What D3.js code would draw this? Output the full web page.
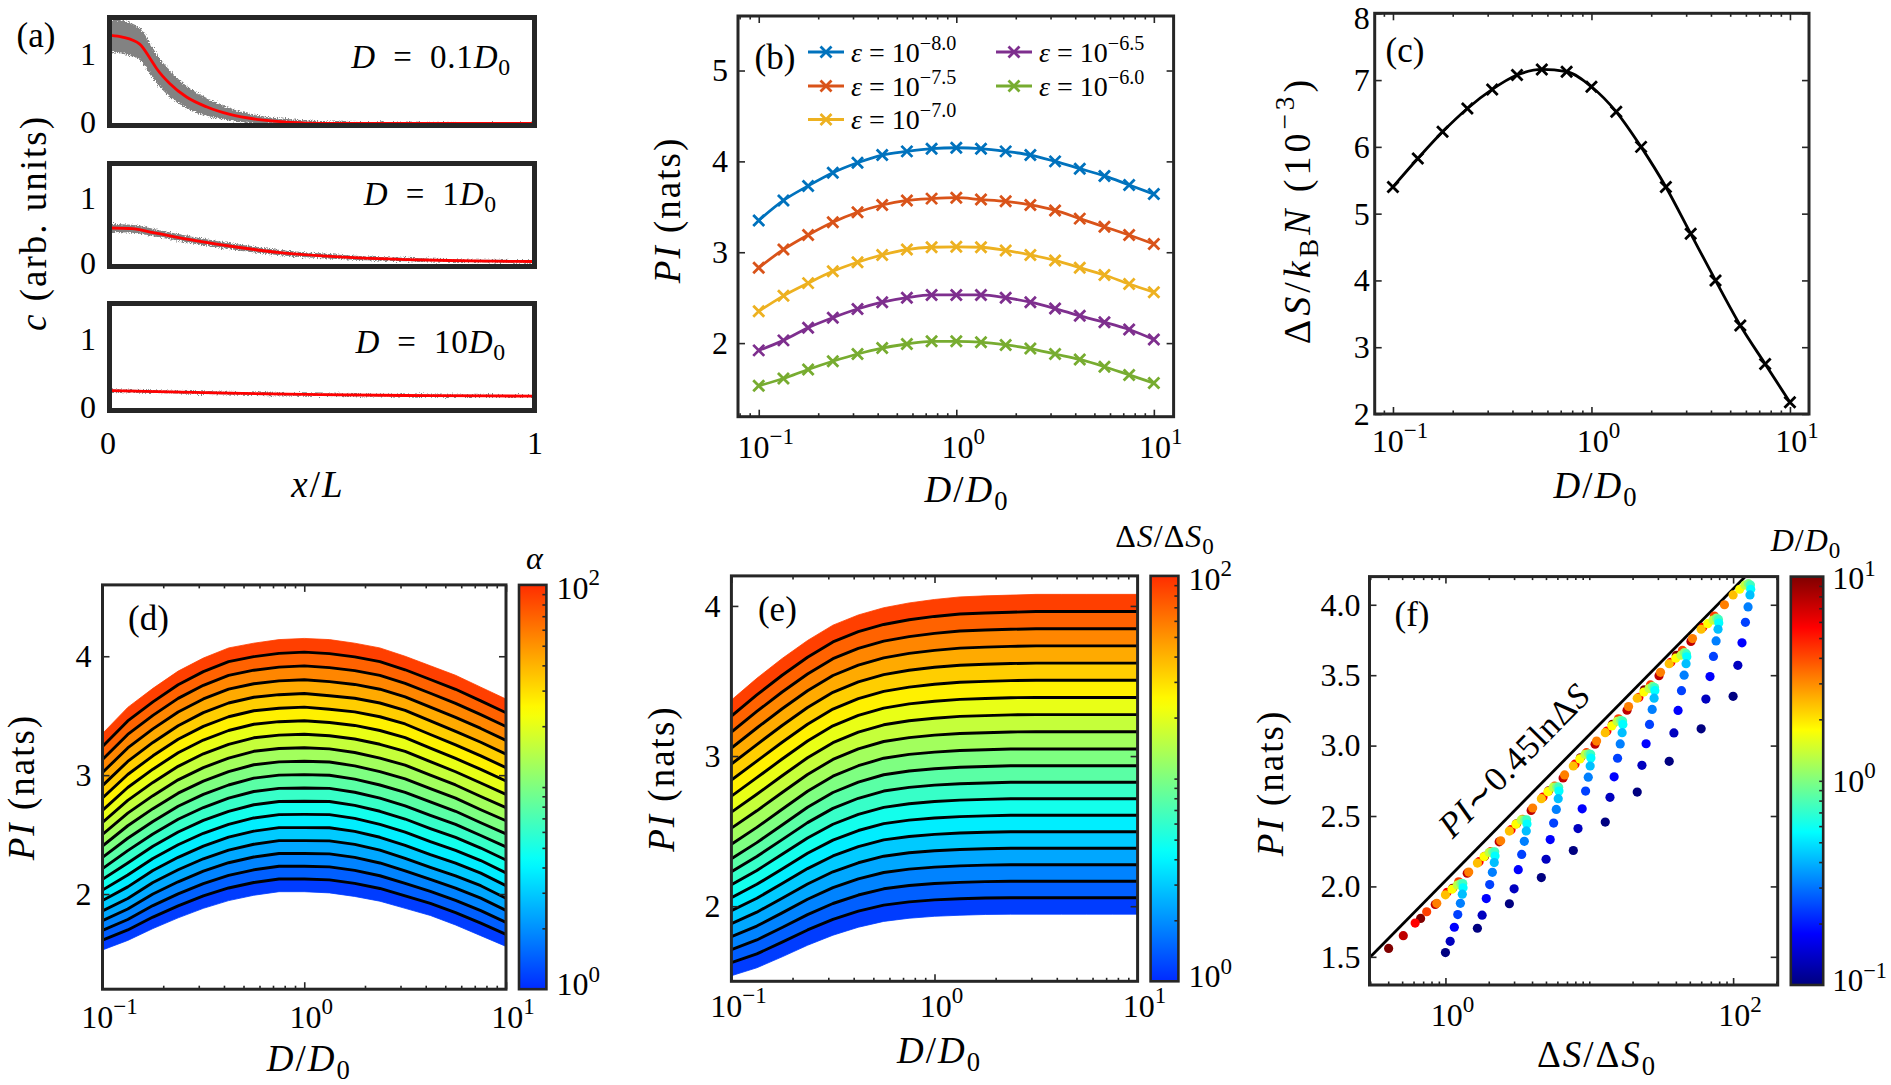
<!DOCTYPE html>
<html><head><meta charset="utf-8">
<script src="https://cdn.jsdelivr.net/npm/d3@7/dist/d3.min.js"></script>
<style>html,body{margin:0;padding:0;background:#fff;} svg{display:block;}</style>
</head><body>
<svg id="fig" width="1891" height="1085" xmlns="http://www.w3.org/2000/svg"></svg>
<script>
// ================= DATA =================
const dGrid = [0.1,0.1334,0.1778,0.2371,0.3162,0.4217,0.5623,0.7499,1,1.3335,1.7783,2.3714,3.1623,4.217,5.6234,7.4989,10];

// (a) concentration profiles: x/L, mean (red) and spread of the grey cloud
const aX1 = [0,0.027,0.068,0.093,0.108,0.139,0.179,0.226,0.282,0.345,0.425,0.503,0.6,0.75,1];
const aC1 = [1.265,1.24,1.14,0.93,0.79,0.574,0.38,0.24,0.13,0.06,0.017,0.003,0,0,0];
const aW1 = [0.24,0.24,0.23,0.22,0.21,0.19,0.16,0.13,0.09,0.06,0.045,0.03,0.02,0.01,0.005];
const aX2 = [0,0.05,0.1,0.2,0.3,0.4,0.5,0.6,0.7,0.8,0.9,1.0];
const aC2 = [0.55,0.54,0.48,0.36,0.26,0.18,0.13,0.095,0.075,0.06,0.05,0.045];
const aW2 = [0.06,0.06,0.055,0.05,0.045,0.04,0.035,0.03,0.025,0.02,0.02,0.02];
const aX3 = [0,0.25,0.5,0.75,1];
const aC3 = [0.26,0.225,0.2,0.186,0.18];
const aW3 = [0.02,0.02,0.018,0.016,0.015];
const aLabels = ["0.1","1","10"];

// (b) PI (nats) vs D/D0 for five epsilon values
const bEps = ["−8.0","−7.5","−7.0","−6.5","−6.0"];
const piEpsM80 = [3.35,3.57,3.73,3.875,3.985,4.07,4.11,4.14,4.15,4.14,4.11,4.07,4.00,3.92,3.84,3.74,3.64];
const piEpsM75 = [2.83,3.03,3.19,3.33,3.44,3.52,3.57,3.59,3.60,3.58,3.56,3.52,3.46,3.37,3.28,3.19,3.09];
const piEpsM70 = [2.35,2.52,2.66,2.79,2.89,2.97,3.03,3.055,3.06,3.055,3.02,2.97,2.91,2.83,2.75,2.65,2.56];
const piEpsM65 = [1.92,2.03,2.17,2.28,2.375,2.45,2.50,2.53,2.53,2.53,2.50,2.45,2.38,2.30,2.23,2.15,2.04];
const piEpsM60 = [1.53,1.61,1.71,1.80,1.88,1.945,1.99,2.02,2.02,2.01,1.98,1.94,1.88,1.82,1.74,1.65,1.56];
const bColors = ["#0072BD","#D95319","#EDB120","#7E2F8E","#77AC30"];

// (c) Delta S / kB N (1e-3)
const dsC = [5.40,5.825,6.225,6.575,6.86,7.075,7.16,7.125,6.9,6.525,6.0,5.4,4.7,4.0,3.325,2.75,2.175];

// (d) PI field: rows = alpha levels, columns = dGrid
const alphaLevels = [1,1.668,2.783,4.642,7.743,12.915,21.544,35.938,59.948,100];
const piAlpha = [
 [1.53,1.61,1.71,1.80,1.88,1.945,1.99,2.02,2.02,2.01,1.98,1.94,1.88,1.82,1.74,1.65,1.56],
 [1.703,1.796,1.914,2.013,2.10,2.169,2.216,2.246,2.246,2.241,2.211,2.166,2.102,2.033,1.958,1.872,1.773],
 [1.877,1.983,2.119,2.227,2.32,2.394,2.443,2.473,2.473,2.472,2.442,2.393,2.324,2.247,2.176,2.094,1.987],
 [2.063,2.193,2.333,2.45,2.547,2.623,2.677,2.705,2.707,2.705,2.673,2.623,2.557,2.477,2.403,2.317,2.213],
 [2.255,2.411,2.551,2.677,2.776,2.855,2.912,2.938,2.942,2.938,2.905,2.855,2.792,2.712,2.635,2.539,2.445],
 [2.457,2.633,2.778,2.91,3.012,3.092,3.15,3.174,3.18,3.172,3.14,3.092,3.032,2.95,2.868,2.77,2.678],
 [2.67,2.86,3.013,3.15,3.257,3.337,3.39,3.412,3.42,3.405,3.38,3.337,3.277,3.19,3.103,3.01,2.913],
 [2.888,3.09,3.25,3.39,3.50,3.581,3.63,3.651,3.661,3.642,3.621,3.581,3.52,3.431,3.342,3.251,3.151],
 [3.119,3.33,3.49,3.633,3.743,3.826,3.87,3.896,3.906,3.891,3.866,3.826,3.76,3.676,3.591,3.496,3.396],
 [3.35,3.57,3.73,3.875,3.985,4.07,4.11,4.14,4.15,4.14,4.11,4.07,4.00,3.92,3.84,3.74,3.64]
];

// (e) PI field at fixed Delta S / Delta S0 = 1, 10, 100
const dsLevels = [1,10,100];
const piDS = [
 [1.537,1.59,1.663,1.74,1.807,1.86,1.899,1.92,1.933,1.94,1.945,1.947,1.947,1.947,1.947,1.947,1.947],
 [2.36,2.47,2.59,2.71,2.81,2.88,2.93,2.955,2.97,2.98,2.985,2.99,2.99,2.99,2.99,2.99,2.99],
 [3.373,3.518,3.65,3.77,3.872,3.94,3.988,4.02,4.043,4.06,4.067,4.072,4.077,4.077,4.077,4.077,4.077]
];
const contourCount = 19;

// (f) fit line PI ~ a + 0.45 ln dS
const fitSlope = 0.45, fitIntercept = 2.04;

// tick labels
const bYTicks = [2,3,4,5], cYTicks = [2,3,4,5,6,7,8], dYTicks = [2,3,4], eYTicks = [2,3,4];
const fYTicks = ["1.5","2.0","2.5","3.0","3.5","4.0"];

// ================= HELPERS =================
const FONT = '"Liberation Serif","Times New Roman",serif';
const INK = "#262626";
const svg = d3.select("#fig");
const defs = svg.append("defs");

function mtext(g, x, y, parts, size, anchor, rot, ls) {
  const t = g.append("text").attr("x", x).attr("y", y).attr("font-size", size)
    .attr("font-family", FONT).attr("fill", "#000").attr("text-anchor", anchor || "middle");
  if (ls) t.attr("letter-spacing", ls);
  if (rot) t.attr("transform", `rotate(${rot},${x},${y})`);
  let shift = 0;
  parts.forEach(p => {
    if (typeof p === "string") p = {t: p};
    const small = p.sub || p.sup;
    const fs = small ? size * 0.72 : size;
    const target = p.sub ? size * 0.22 : (p.sup ? -size * 0.42 : 0);
    const ts = t.append("tspan").attr("font-size", fs).text(p.t);
    if (target - shift !== 0) ts.attr("dy", target - shift);
    if (p.i) ts.attr("font-style", "italic");
    shift = target;
  });
  return t;
}
function ctext(g, cx, cy, parts, size, anchor, ls) { return mtext(g, cx, cy + size * 0.34, parts, size, anchor, 0, ls); }
function vtext(g, cx, cy, parts, size, ls) { return mtext(g, cx + size * 0.34, cy, parts, size, "middle", -90, ls); }
function pow10(e) { return ["10", {t: (e < 0 ? "−" : "") + Math.abs(e), sup: 1}]; }

function jet(t) {
  const c = v => Math.max(0, Math.min(1, v));
  const r = c(Math.min(4 * t - 1.5, -4 * t + 4.5));
  const g = c(Math.min(4 * t - 0.5, -4 * t + 3.5));
  const b = c(Math.min(4 * t + 0.5, -4 * t + 2.5));
  return d3.rgb(r * 255, g * 255, b * 255).formatHex();
}
const jetTrunc = u => jet(0.166 + 0.665 * u);

function styleAxis(sel) {
  sel.select(".domain").remove();
  sel.selectAll("line").attr("stroke", INK).attr("stroke-width", 1.6);
  sel.selectAll("text").remove();
}
function xTicks(g, x, y0, y1, vals, len) {
  g.append("g").attr("transform", `translate(0,${y1})`).call(d3.axisBottom(x).tickValues(vals).tickSize(-len)).call(styleAxis);
  g.append("g").attr("transform", `translate(0,${y0})`).call(d3.axisTop(x).tickValues(vals).tickSize(-len)).call(styleAxis);
}
function yTicks(g, y, x0, x1, vals, len) {
  g.append("g").attr("transform", `translate(${x0},0)`).call(d3.axisLeft(y).tickValues(vals).tickSize(-len)).call(styleAxis);
  g.append("g").attr("transform", `translate(${x1},0)`).call(d3.axisRight(y).tickValues(vals).tickSize(-len)).call(styleAxis);
}
function logMinors(dom, exps) {
  const out = [];
  exps.forEach(e => { for (let m = 2; m <= 9; m++) { const v = m * Math.pow(10, e); if (v > dom[0] && v < dom[1]) out.push(v); } });
  return out;
}
function frame(g, x0, x1, y0, y1, w) {
  g.append("rect").attr("x", x0).attr("y", y0).attr("width", x1 - x0).attr("height", y1 - y0)
    .attr("fill", "none").attr("stroke", INK).attr("stroke-width", w);
}
function clip(id, x0, x1, y0, y1) {
  defs.append("clipPath").attr("id", id).append("rect").attr("x", x0).attr("y", y0).attr("width", x1 - x0).attr("height", y1 - y0);
  return `url(#${id})`;
}
function xMarker(g, cx, cy, color, s) {
  g.append("path").attr("d", `M${cx - s},${cy - s}L${cx + s},${cy + s}M${cx - s},${cy + s}L${cx + s},${cy - s}`)
    .attr("stroke", color).attr("stroke-width", 2.8).attr("fill", "none");
}
const TK = 32, LB = 37, LS = 2, LET = 35;
const dLab = [{t: "D", i: 1}, "/", {t: "D", i: 1}, {t: "0", sub: 1}];
const piLab = [{t: "PI", i: 1}, " (nats)"];

const flt = defs.append("filter").attr("id", "fuzz").attr("x", "-5%").attr("y", "-20%").attr("width", "110%").attr("height", "140%");
flt.append("feTurbulence").attr("type", "fractalNoise").attr("baseFrequency", "0.8").attr("numOctaves", 2).attr("seed", 3).attr("result", "n");
flt.append("feDisplacementMap").attr("in", "SourceGraphic").attr("in2", "n").attr("scale", 6).attr("xChannelSelector", "R").attr("yChannelSelector", "G");

// ================= PANEL (a) =================
(function () {
  const g = svg.append("g");
  const L = 107, R = 537;
  const boxes = [{t: 15, b: 128, X: aX1, C: aC1, W: aW1, lab: aLabels[0], lx: 511, ly: 57},
                 {t: 161, b: 269, X: aX2, C: aC2, W: aW2, lab: aLabels[1], lx: 497, ly: 194},
                 {t: 301, b: 413, X: aX3, C: aC3, W: aW3, lab: aLabels[2], lx: 506, ly: 342}];
  const x = d3.scaleLinear().domain([0, 1]).range([L + 4, R - 4]);
  boxes.forEach((bx, k) => {
    const y = d3.scaleLinear().domain([0, 1.5]).range([bx.b - 4.5, bx.t + 4]);
    const cp = clip("ca" + k, L + 2, R - 2, bx.t + 2, bx.b - 2);
    const pg = g.append("g").attr("clip-path", cp);
    const idx = d3.range(bx.X.length);
    pg.append("path").attr("filter", "url(#fuzz)").attr("fill", "#828282")
      .attr("d", d3.area().curve(d3.curveMonotoneX).x(i => x(bx.X[i])).y0(i => y(bx.C[i] - bx.W[i])).y1(i => y(bx.C[i] + bx.W[i]))(idx));
    pg.append("path").attr("fill", "none").attr("stroke", "#ff0000").attr("stroke-width", 2.8)
      .attr("d", d3.line().curve(d3.curveMonotoneX).x(i => x(bx.X[i])).y(i => y(bx.C[i]))(idx));
    frame(g, L + 2.5, R - 2.5, bx.t + 2.5, bx.b - 2.5, 5);
    ctext(g, 96, y(1), ["1"], TK, "end");
    ctext(g, 96, y(0) - 1, ["0"], TK, "end");
    ctext(g, bx.lx, bx.ly, [{t: "D", i: 1}, "\u2002=\u2002" + bx.lab, {t: "D", i: 1}, {t: "0", sub: 1}], 33, "end", 0.8);
  });
  ctext(g, x(0) - 3, 443, ["0"], TK, "middle");
  ctext(g, x(1) + 2, 443, ["1"], TK, "middle");
  ctext(g, 318, 484, [{t: "x", i: 1}, "/", {t: "L", i: 1}], LB, "middle", LS);
  vtext(g, 33, 223, [{t: "c", i: 1}, " (arb. units)"], LB, LS);
  ctext(g, 36, 35, ["(a)"], LET, "middle");
})();

// ================= PANEL (b) =================
(function () {
  const g = svg.append("g");
  const L = 738, R = 1173.6, T = 16, B = 416.7;
  const x = d3.scaleLog().domain([Math.pow(10, -1.105), Math.pow(10, 1.1)]).range([L, R]);
  const y = d3.scaleLinear().domain([1.19, 5.6]).range([B, T]);
  const series = [piEpsM80, piEpsM75, piEpsM70, piEpsM65, piEpsM60];
  const idx = d3.range(dGrid.length);
  const pg = g.append("g").attr("clip-path", clip("cb", L, R, T, B));
  series.forEach((s, k) => {
    pg.append("path").attr("fill", "none").attr("stroke", bColors[k]).attr("stroke-width", 2.8)
      .attr("d", d3.line().curve(d3.curveMonotoneX).x(i => x(dGrid[i])).y(i => y(s[i]))(idx));
    idx.forEach(i => xMarker(pg, x(dGrid[i]), y(s[i]), bColors[k], 5.5));
  });
  xTicks(g, x, T, B, [0.1, 1, 10], 7);
  xTicks(g, x, T, B, logMinors(x.domain(), [-2, -1, 0, 1]), 3.5);
  yTicks(g, y, L, R, bYTicks, 7);
  frame(g, L, R, T, B, 3);
  bYTicks.forEach(v => ctext(g, L - 10, y(v), [String(v)], TK, "end"));
  [-1, 0, 1].forEach(e => ctext(g, x(Math.pow(10, e)) + 7, 447, pow10(e), TK, "middle"));
  ctext(g, 967, 489, dLab, LB, "middle", LS);
  vtext(g, 667, 210, piLab, LB, LS);
  ctext(g, 775, 57, ["(b)"], LET, "middle");
  const pos = [[808, 52], [808, 86], [808, 119.5], [996, 52], [996, 86]];
  bEps.forEach((e, k) => {
    const [lx, ly] = pos[k];
    g.append("line").attr("x1", lx).attr("x2", lx + 36).attr("y1", ly).attr("y2", ly).attr("stroke", bColors[k]).attr("stroke-width", 2.8);
    xMarker(g, lx + 18, ly, bColors[k], 5.5);
    ctext(g, lx + 43, ly, [{t: "ε", i: 1}, " = 10", {t: e, sup: 1}], 28, "start");
  });
})();

// ================= PANEL (c) =================
(function () {
  const g = svg.append("g");
  const L = 1374.7, R = 1809, T = 13.3, B = 414;
  const x = d3.scaleLog().domain([Math.pow(10, -1.092), Math.pow(10, 1.096)]).range([L, R]);
  const y = d3.scaleLinear().domain([2, 8]).range([B, T]);
  const idx = d3.range(dGrid.length);
  const pg = g.append("g").attr("clip-path", clip("cc", L, R, T, B));
  pg.append("path").attr("fill", "none").attr("stroke", "#000").attr("stroke-width", 2.8)
    .attr("d", d3.line().curve(d3.curveMonotoneX).x(i => x(dGrid[i])).y(i => y(dsC[i]))(idx));
  idx.forEach(i => xMarker(pg, x(dGrid[i]), y(dsC[i]), "#000", 5.5));
  xTicks(g, x, T, B, [0.1, 1, 10], 7);
  xTicks(g, x, T, B, logMinors(x.domain(), [-2, -1, 0, 1]), 3.5);
  yTicks(g, y, L, R, cYTicks, 7);
  frame(g, L, R, T, B, 3);
  cYTicks.forEach(v => ctext(g, L - 5, Math.max(y(v), 18), [String(v)], TK, "end"));
  [-1, 0, 1].forEach(e => ctext(g, x(Math.pow(10, e)) + 7, 441, pow10(e), TK, "middle"));
  ctext(g, 1596, 485, dLab, LB, "middle", LS);
  vtext(g, 1297, 210, ["Δ", {t: "S", i: 1}, "/", {t: "k", i: 1}, {t: "B", sub: 1}, {t: "N", i: 1}, " (10", {t: "−3", sup: 1}, ")"], 38, 4);
  ctext(g, 1405, 50, ["(c)"], LET, "middle");
})();

// ================= contour-band helper for (d),(e) =================
function fieldAt(rows, logLv, L, i) {
  let k = 0;
  while (k < logLv.length - 2 && L > logLv[k + 1]) k++;
  const f = (L - logLv[k]) / (logLv[k + 1] - logLv[k]);
  return rows[k][i] + f * (rows[k + 1][i] - rows[k][i]);
}
function bandPanel(g, id, L, R, T, B, yDom, rows, levels, cbX0, cbX1, cbTitle, cbTitleX, cbTitleY, letter, yTickVals, ylabX, xTickY, xlabY) {
  const x = d3.scaleLog().domain([0.1, 10]).range([L, R]);
  const y = d3.scaleLinear().domain(yDom).range([B, T]);
  const logLv = levels.map(Math.log10);
  const lo = logLv[0], hi = logLv[logLv.length - 1];
  const idx = d3.range(dGrid.length);
  const pg = g.append("g").attr("clip-path", clip(id, L, R, T, B));
  const lv = d3.range(contourCount + 1).map(j => lo + (hi - lo) * j / contourCount);
  for (let j = 0; j < contourCount; j++) {
    const col = jetTrunc((j + 0.5) / contourCount);
    pg.append("path").attr("fill", col).attr("stroke", col).attr("stroke-width", 0.8)
      .attr("d", d3.area().x(i => x(dGrid[i])).y0(i => y(fieldAt(rows, logLv, lv[j], i))).y1(i => y(fieldAt(rows, logLv, lv[j + 1], i)))(idx));
  }
  for (let j = 1; j < contourCount; j++) {
    pg.append("path").attr("fill", "none").attr("stroke", "#000").attr("stroke-width", 2.9).attr("stroke-linejoin", "round")
      .attr("d", d3.line().x(i => x(dGrid[i])).y(i => y(fieldAt(rows, logLv, lv[j], i)))(idx));
  }
  xTicks(g, x, T, B, [0.1, 1, 10], 7);
  xTicks(g, x, T, B, logMinors(x.domain(), [-1, 0]), 3.5);
  yTicks(g, y, L, R, yTickVals, 7);
  frame(g, L, R, T, B, 3);
  yTickVals.forEach(v => ctext(g, L - 11, y(v), [String(v)], TK, "end"));
  [-1, 0, 1].forEach(e => ctext(g, x(Math.pow(10, e)) + 7, xTickY, pow10(e), TK, "middle"));
  ctext(g, (L + R) / 2 + 5, xlabY, dLab, LB, "middle", LS);
  vtext(g, ylabX, (T + B) / 2, piLab, LB, LS);
  ctext(g, L + 46, T + 33, [letter], LET, "middle");
  const gid = "grad" + id;
  const gr = defs.append("linearGradient").attr("id", gid).attr("x1", 0).attr("y1", 1).attr("x2", 0).attr("y2", 0);
  d3.range(41).forEach(s => gr.append("stop").attr("offset", s / 40).attr("stop-color", jetTrunc(s / 40)));
  g.append("rect").attr("x", cbX0).attr("y", T).attr("width", cbX1 - cbX0).attr("height", B - T).attr("fill", `url(#${gid})`);
  const cy = d3.scaleLog().domain([1, 100]).range([B, T]);
  g.append("g").attr("transform", `translate(${cbX1},0)`).call(d3.axisRight(cy).tickValues(logMinors([1, 100], [0, 1]).concat([10])).tickSize(-4)).call(styleAxis);
  frame(g, cbX0, cbX1, T, B, 2.6);
  ctext(g, cbX1 + 10, T + 3, pow10(2), TK, "start");
  ctext(g, cbX1 + 10, B - 5, pow10(0), TK, "start");
  ctext(g, cbTitleX, cbTitleY, cbTitle, 32, "middle", 1);
}

bandPanel(svg.append("g"), "cd", 102.5, 506, 584.9, 989.2, [1.2, 4.6], piAlpha, alphaLevels,
  519, 546.4, [{t: "α", i: 1}], 535, 558, "(d)", dYTicks, 21, 1017, 1058);

bandPanel(svg.append("g"), "ce", 731.4, 1137.6, 575.9, 981.3, [1.5, 4.2], piDS, dsLevels,
  1150.6, 1178.4, ["Δ", {t: "S", i: 1}, "/Δ", {t: "S", i: 1}, {t: "0", sub: 1}], 1165, 536, "(e)", eYTicks, 661, 1006, 1050);

// ================= PANEL (f) =================
(function () {
  const g = svg.append("g");
  const L = 1369.5, R = 1777.7, T = 576.6, B = 985;
  const x = d3.scaleLog().domain([Math.pow(10, -0.528), Math.pow(10, 2.31)]).range([L, R]);
  const y = d3.scaleLinear().domain([1.3, 4.2]).range([B, T]);
  const pg = g.append("g").attr("clip-path", clip("cf", L, R, T, B));
  const xs = [x.domain()[0], x.domain()[1]];
  pg.append("path").attr("fill", "none").attr("stroke", "#000").attr("stroke-width", 2.8)
    .attr("d", d3.line().x(v => x(v)).y(v => y(fitIntercept + fitSlope * Math.log(v)))(xs));
  const pts = [];
  alphaLevels.forEach((a, k) => dGrid.forEach((D, i) => pts.push({sx: a * dsC[i] / dsC[0], py: piAlpha[k][i], D: D, i: i})));
  pts.sort((p, q) => q.i - p.i);
  pg.selectAll("circle.pt").data(pts).enter().append("circle")
    .attr("cx", p => x(p.sx)).attr("cy", p => y(p.py)).attr("r", 4.6)
    .attr("fill", p => jet((Math.log10(p.D) + 1) / 2));
  xTicks(g, x, T, B, [1, 100], 7);
  xTicks(g, x, T, B, logMinors(x.domain(), [-1, 0, 1, 2]).concat([10]), 3.5);
  const yv = fYTicks.map(Number);
  yTicks(g, y, L, R, yv, 7);
  frame(g, L, R, T, B, 3);
  fYTicks.forEach(s => ctext(g, L - 9, y(+s), [s], TK, "end"));
  ctext(g, x(1) + 7, 1015, pow10(0), TK, "middle");
  ctext(g, x(100) + 7, 1015, pow10(2), TK, "middle");
  ctext(g, 1597, 1054, ["Δ", {t: "S", i: 1}, "/Δ", {t: "S", i: 1}, {t: "0", sub: 1}], LB, "middle", LS);
  vtext(g, 1270, 783, piLab, LB, LS);
  ctext(g, 1412, 614, ["(f)"], LET, "middle");
  const ang = -45.4, s = 35, cx = 1514, cyy = 760;
  mtext(g, cx + s * 0.34 * 0.71, cyy + s * 0.34 * 0.71, [{t: "PI", i: 1}, "∼0.45lnΔ", {t: "S", i: 1}], s, "middle", ang, 0.8);
  const cbX0 = 1790.8, cbX1 = 1823.2;
  const gr = defs.append("linearGradient").attr("id", "gradf").attr("x1", 0).attr("y1", 1).attr("x2", 0).attr("y2", 0);
  d3.range(41).forEach(k => gr.append("stop").attr("offset", k / 40).attr("stop-color", jet(k / 40)));
  g.append("rect").attr("x", cbX0).attr("y", T).attr("width", cbX1 - cbX0).attr("height", B - T).attr("fill", "url(#gradf)");
  const cy = d3.scaleLog().domain([0.1, 10]).range([B, T]);
  g.append("g").attr("transform", `translate(${cbX1},0)`).call(d3.axisRight(cy).tickValues(logMinors([0.1, 10], [-1, 0]).concat([1])).tickSize(-4)).call(styleAxis);
  frame(g, cbX0, cbX1, T, B, 2.6);
  ctext(g, cbX1 + 9, T + 2, pow10(1), TK, "start");
  ctext(g, cbX1 + 9, cy(1), pow10(0), TK, "start");
  ctext(g, cbX1 + 9, B - 5, pow10(-1), 31, "start");
  ctext(g, 1806, 540, dLab, 32, "middle", 1);
})();
</script>
</body></html>
